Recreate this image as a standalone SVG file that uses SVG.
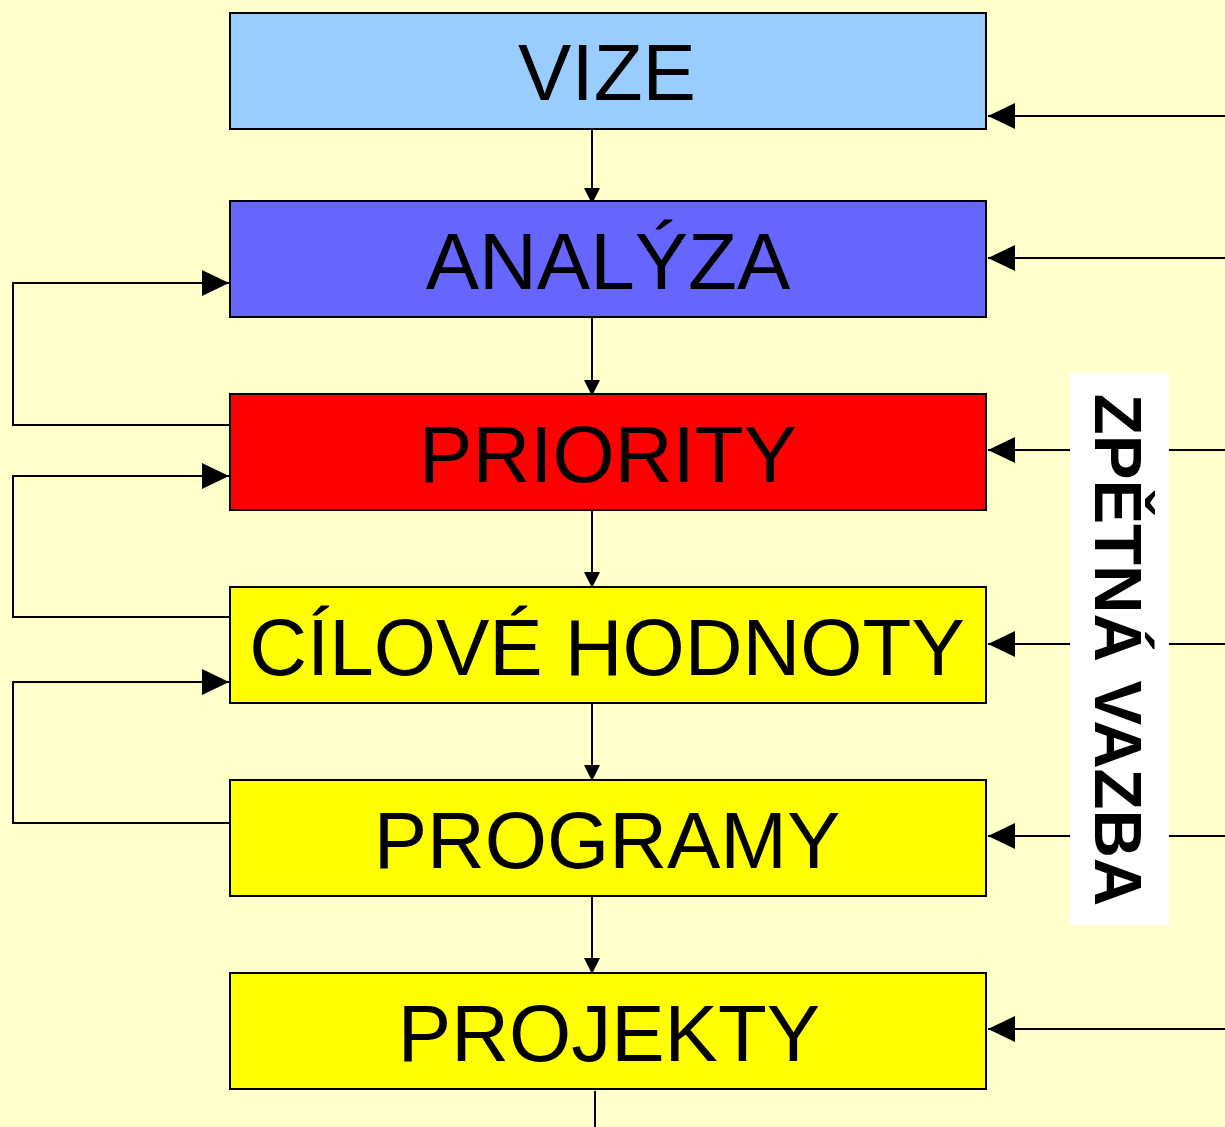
<svg xmlns="http://www.w3.org/2000/svg" width="1225" height="1127" viewBox="0 0 1225 1127">
<style>
.box{stroke:#000;stroke-width:2}
.lbl{font-family:"Liberation Sans",Arial,sans-serif;font-size:80px;fill:#000;text-anchor:middle}
.ln{fill:none;stroke:#000;stroke-width:2}
</style>
<defs>
<marker id="sm" markerUnits="userSpaceOnUse" markerWidth="18" markerHeight="18" refX="16" refY="8" orient="auto"><path d="M0,0 L16,8 L0,16 Z" fill="#000"/></marker>
<marker id="lg" markerUnits="userSpaceOnUse" markerWidth="28" markerHeight="28" refX="27" refY="14" orient="auto"><path d="M0,1 L27,14 L0,27 Z" fill="#000"/></marker>
</defs>
<rect width="1225" height="1127" fill="#FFFFCC"/>
<g id="connectors">
<path class="ln" d="M592,130 V204" marker-end="url(#sm)"/>
<path class="ln" d="M592,318 V396" marker-end="url(#sm)"/>
<path class="ln" d="M592,511 V588" marker-end="url(#sm)"/>
<path class="ln" d="M592,704 V781" marker-end="url(#sm)"/>
<path class="ln" d="M592,897 V974" marker-end="url(#sm)"/>
<path class="ln" d="M595,1091 V1127"/>
<path class="ln" d="M230,425 H13 V283 H229" marker-end="url(#lg)"/>
<path class="ln" d="M230,617 H13 V476 H229" marker-end="url(#lg)"/>
<path class="ln" d="M230,823 H13 V682 H229" marker-end="url(#lg)"/>
<path class="ln" d="M1225,116 H988" marker-end="url(#lg)"/>
<path class="ln" d="M1225,258 H988" marker-end="url(#lg)"/>
<path class="ln" d="M1225,450 H988" marker-end="url(#lg)"/>
<path class="ln" d="M1225,644 H988" marker-end="url(#lg)"/>
<path class="ln" d="M1225,836 H988" marker-end="url(#lg)"/>
<path class="ln" d="M1225,1029 H988" marker-end="url(#lg)"/>
</g>
<g id="vize"><rect class="box" x="230" y="13" width="756" height="116" fill="#99CCFF"/><text class="lbl" x="607" y="100">VIZE</text></g>
<g id="analyza"><rect class="box" x="230" y="201" width="756" height="116" fill="#6666FF"/><text class="lbl" x="608" y="289">ANALÝZA</text></g>
<g id="priority"><rect class="box" x="230" y="394" width="756" height="116" fill="#FF0000"/><text class="lbl" x="608" y="482">PRIORITY</text></g>
<g id="cilove"><rect class="box" x="230" y="587" width="756" height="116" fill="#FFFF00"/><text class="lbl" x="607" y="675">CÍLOVÉ HODNOTY</text></g>
<g id="programy"><rect class="box" x="230" y="780" width="756" height="116" fill="#FFFF00"/><text class="lbl" x="607" y="868">PROGRAMY</text></g>
<g id="projekty"><rect class="box" x="230" y="973" width="756" height="116" fill="#FFFF00"/><text class="lbl" x="609" y="1061">PROJEKTY</text></g>
<g id="zpetna-vazba">
<rect x="1070" y="373" width="99" height="552" fill="#FFFFFF"/>
<text transform="translate(1095,650) rotate(90)" x="0" y="0" font-family="'Liberation Sans',Arial,sans-serif" font-size="67" font-weight="bold" text-anchor="middle" fill="#000">ZPĚTNÁ VAZBA</text>
</g>
</svg>
